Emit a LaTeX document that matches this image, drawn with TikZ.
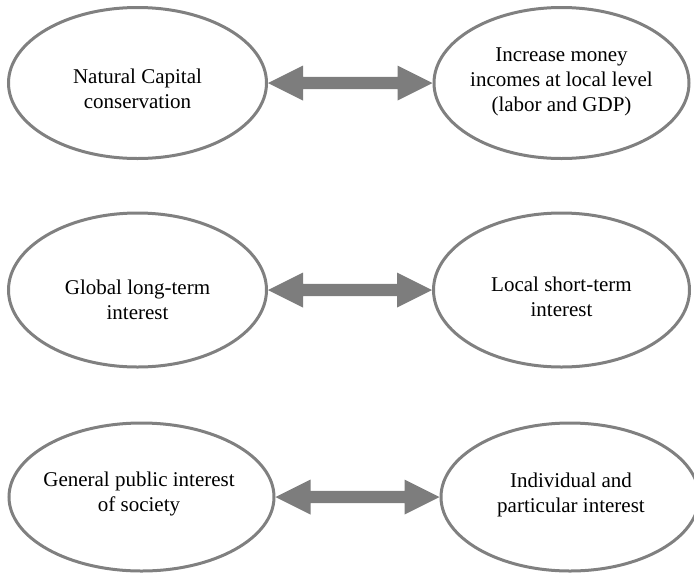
\documentclass[tikz,border=0pt]{standalone}
\usepackage{fontspec}
\setmainfont{Liberation Serif}
\usetikzlibrary{shapes.geometric,calc}
\definecolor{rim}{RGB}{128,128,128}
\definecolor{arrowgray}{RGB}{125,125,125}
\tikzset{
  oval/.style={ellipse, draw=rim, line width=3pt, inner sep=0pt},
  lbl/.style={align=center, inner sep=0pt, font=\fontsize{21}{25}\selectfont},
}
\newcommand{\dblarrow}[2]{%
  \fill[arrowgray] (#1.east) -- ++(35,-17.5) -- ++(0,11.3)
    -- ($(#2.west)+(-35,-6.2)$) -- ++(0,-11.3) -- (#2.west)
    -- ++(-35,17.5) -- ++(0,-11.3)
    -- ($(#1.east)+(35,6.2)$) -- ++(0,11.3) -- cycle;}
\begin{document}
\begin{tikzpicture}[x=1pt,y=-1pt]
\useasboundingbox (0,0) rectangle (694,574);
% row 1
\node[oval, minimum width=258pt, minimum height=151pt] (a1) at (137.5,83) {};
\node[oval, minimum width=255pt, minimum height=151pt] (b1) at (561.5,83) {};
\node[lbl] (ta1) at (137.5,89) {Natural Capital\\conservation};
\node[lbl] (tb1) at (561.5,82) {Increase money\\incomes at local level\\(labor and GDP)};
% row 2
\node[oval, minimum width=258pt, minimum height=154pt] (a2) at (137.5,290) {};
\node[oval, minimum width=256pt, minimum height=154pt] (b2) at (561.5,290) {};
\node[lbl] (ta2) at (137.5,300) {Global long-term\\interest};
\node[lbl] (tb2) at (561.5,297) {Local short-term\\interest};
% row 3
\node[oval, minimum width=265pt, minimum height=148pt] (a3) at (141.5,497) {};
\node[oval, minimum width=258pt, minimum height=148pt] (b3) at (570,497) {};
\node[lbl] (ta3) at (139,494) {General public interest\\of society};
\node[lbl] (tb3) at (571,495) {Individual and\\particular interest};
% arrows
\dblarrow{a1}{b1}
\dblarrow{a2}{b2}
\dblarrow{a3}{b3}
\end{tikzpicture}
\end{document}
